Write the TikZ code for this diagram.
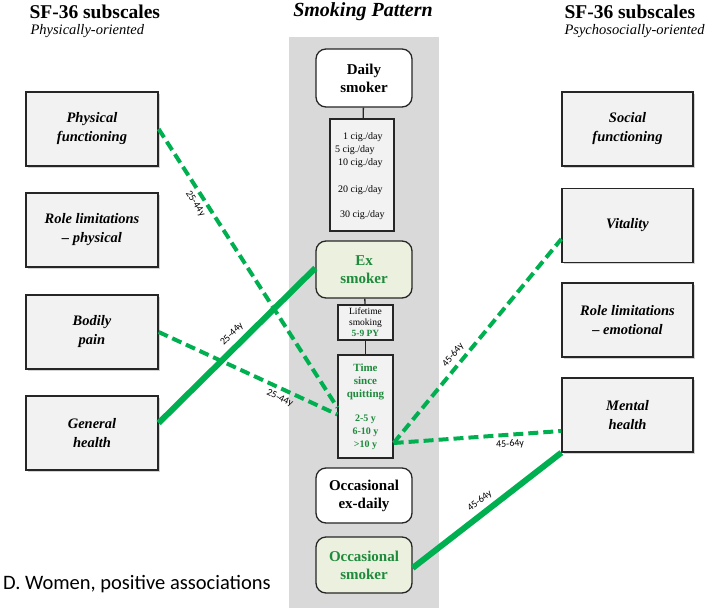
\documentclass[tikz,border=0pt]{standalone}
\usepackage{fontspec}
\setmainfont{Liberation Serif}
\newfontfamily\calib{Carlito}
\usetikzlibrary{shadows,calc}
\definecolor{gline}{HTML}{00B050}
\definecolor{gtext}{HTML}{1E8A3C}
\definecolor{panelgray}{HTML}{D9D9D9}
\definecolor{boxgray}{HTML}{F2F2F2}
\definecolor{boxgreen}{HTML}{EBF1DE}
\definecolor{edge}{HTML}{262626}
\tikzset{
  sfbox/.style={draw=edge, line width=1.3pt, fill=boxgray, minimum width=132pt, minimum height=74pt,
    align=center, font=\fontsize{14.5}{19}\selectfont\bfseries\itshape,
    drop shadow={shadow xshift=1.5pt, shadow yshift=-1.5pt, opacity=0.35, fill=gray}},
  roundbox/.style={draw=edge, line width=1.3pt, fill=white, rounded corners=10pt, minimum width=96pt,
    minimum height=57pt, align=center, font=\fontsize{15}{18}\selectfont\bfseries},
  greenbox/.style={roundbox, fill=boxgreen, text=gtext},
  subbox/.style={draw=edge, line width=1.3pt, fill=boxgray, align=center},
  dashlink/.style={draw=gline, line width=4pt, dash pattern=on 10pt off 5pt},
  solidlink/.style={draw=gline, line width=6pt},
  agelabel/.style={font=\calib\fontsize{10}{12}\selectfont, sloped, inner sep=1.5pt},
  stem/.style={draw=edge, line width=1.3pt},
  cigtext/.style={font=\fontsize{10}{12}\selectfont, anchor=west, inner sep=0pt},
  title/.style={font=\fontsize{19.5}{23}\selectfont\bfseries, anchor=west},
  subtitle/.style={font=\fontsize{14.5}{16}\selectfont\itshape, anchor=west}
}
\begin{document}
\begin{tikzpicture}[x=1pt,y=-1pt]
\useasboundingbox (0,0) rectangle (707,608);
\fill[panelgray] (289,37) rectangle (439,608);

% titles
\node[title] (tl) at (26,12) {SF-36 subscales};
\node[subtitle] (stl) at (27,31) {Physically-oriented};
\node[title] (tr) at (561,12) {SF-36 subscales};
\node[subtitle] (str) at (561,31) {Psychosocially-oriented};
\node[font=\fontsize{20}{24}\selectfont\bfseries\itshape] (tc) at (363,12) {Smoking Pattern};

% left boxes
\node[sfbox] (pf) at (92,129) {Physical\\functioning};
\node[sfbox] (rlp) at (92,230) {Role limitations\\-- physical};
\node[sfbox] (bp) at (92,332) {Bodily\\pain};
\node[sfbox] (gh) at (92,433) {General\\health};

% right boxes
\node[sfbox, minimum width=131pt] (sf) at (627.5,129) {Social\\functioning};
\node[sfbox, minimum width=131pt] (vit) at (627.5,225.5) {Vitality};
\node[sfbox, minimum width=131pt] (rle) at (627.5,320) {Role limitations\\-- emotional};
\node[sfbox, minimum width=131pt] (mh) at (627.5,415) {Mental\\health};

% central column
\node[roundbox, minimum height=58pt] (daily) at (364,78) {Daily\\smoker};
\node[subbox, minimum width=64pt, minimum height=112pt] (cig) at (362,175) {};
\node[cigtext] (c1) at (343,137) {1 cig./day};
\node[cigtext] (c5) at (335,150) {5 cig./day};
\node[cigtext] (c10) at (338,163) {10 cig./day};
\node[cigtext] (c20) at (338,190) {20 cig./day};
\node[cigtext] (c30) at (340,215) {30 cig./day};
\node[greenbox] (ex) at (364,269.5) {Ex\\smoker};
\node[subbox, minimum width=55pt, minimum height=35pt, inner sep=0pt,
  font=\fontsize{9.5}{11}\selectfont] (life) at (365.5,322.5)
  {Lifetime\\smoking\\\textcolor{gtext}{\bfseries 5-9 PY}};
\node[subbox, minimum width=55pt, minimum height=103pt, inner sep=0pt, text=gtext,
  font=\fontsize{11}{13}\selectfont\bfseries] (time) at (365.5,406.5)
  {Time\\since\\quitting\\[11pt]{\fontsize{10}{11}\selectfont 2-5 y}\\{\fontsize{10}{11}\selectfont 6-10 y}\\{\fontsize{10}{11}\selectfont >10 y}};
\node[roundbox, minimum height=55pt] (occex) at (364,495.5) {Occasional\\ex-daily};
\node[greenbox, minimum height=56pt] (occ) at (364,565) {Occasional\\smoker};

\draw[stem] (daily) -- (cig);
\draw[stem] (ex) -- (life);
\draw[stem] (life) -- (time);

% connectors
\coordinate (t1) at ($(time.west)+(0,1)$);
\coordinate (t2) at ($(time.west)+(0,8)$);
\coordinate (t3) at ($(time.east)+(0,36.5)$);
\draw[dashlink] (pf.east) -- node[agelabel, pos=0.25, below=2pt] (l1) {25-44y} (t1);
\draw[dashlink] (bp.east) -- node[agelabel, pos=0.7, below=2pt] (l2) {25-44y} (t2);
\draw[solidlink] ($(gh.east)+(0,-10)$) -- node[agelabel, pos=0.52, above=3pt] (l3) {25-44y} ($(ex.west)+(0,-1.5)$);
\draw[dashlink] (t3) -- node[agelabel, pos=0.4, above=2pt] (l4) {45-64y} ($(vit.west)+(0,13.5)$);
\draw[dashlink] (t3) -- node[agelabel, pos=0.69, below=2pt] (l5) {45-64y} ($(mh.west)+(0,16)$);
\draw[solidlink] ($(occ.east)+(0,3)$) -- node[agelabel, pos=0.5, above=3pt] (l6) {45-64y} (mh.south west);

% caption
\node[font=\calib\fontsize{20.5}{24}\selectfont, anchor=base west, inner sep=0pt] (cap) at (3,589) {D. Women, positive associations};
\end{tikzpicture}
\end{document}
